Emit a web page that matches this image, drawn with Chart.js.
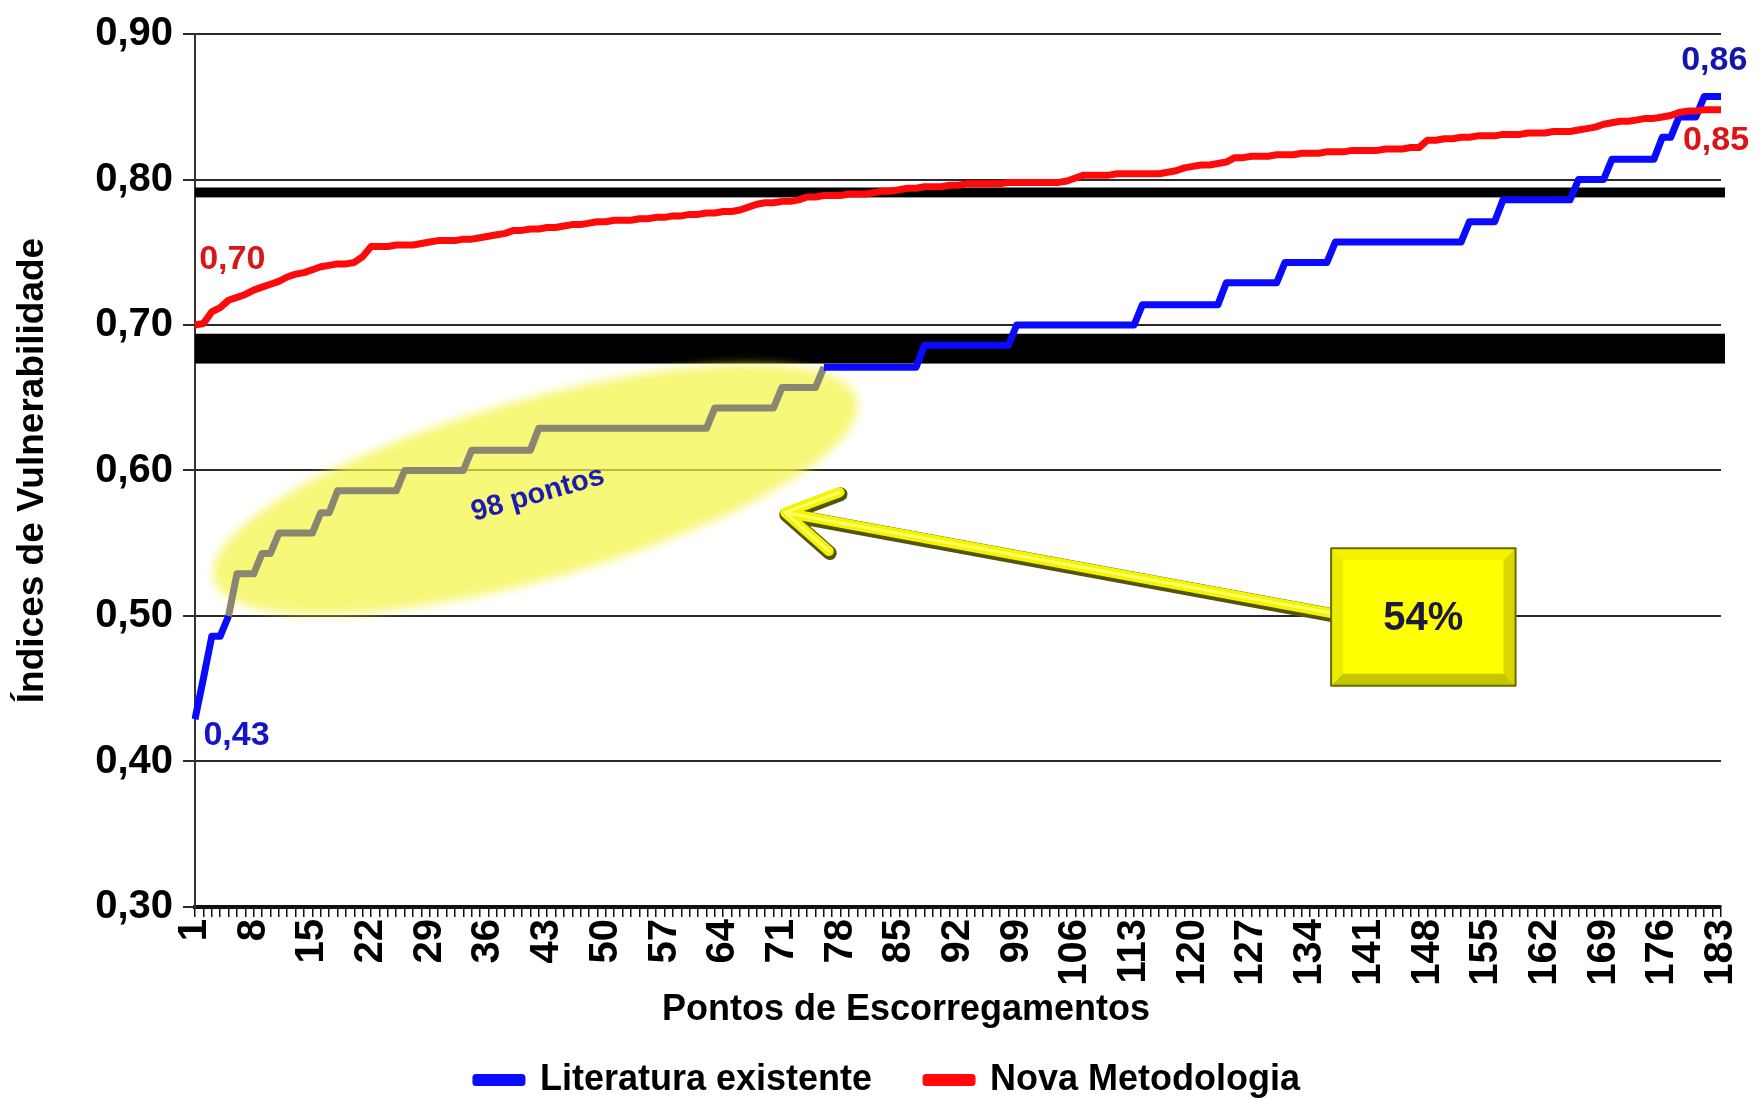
<!DOCTYPE html>
<html>
<head>
<meta charset="utf-8">
<script src="https://cdn.jsdelivr.net/npm/chart.js@4.4.1/dist/chart.umd.min.js"></script>
<style>
  html, body { margin: 0; padding: 0; background: #fff; }
  canvas { display: block; }
</style>
</head>
<body>
<canvas id="grafico" width="1760" height="1099"></canvas>
<script>
'use strict';

// pontos de escorregamento 1..183
const pontos = [];
for (let i = 1; i <= 183; i++) pontos.push(String(i));

const literatura = [
  0.429, 0.457, 0.486, 0.486, 0.500, 0.529, 0.529, 0.529, 0.543, 0.543,
  0.557, 0.557, 0.557, 0.557, 0.557, 0.571, 0.571, 0.586, 0.586, 0.586,
  0.586, 0.586, 0.586, 0.586, 0.586, 0.600, 0.600, 0.600, 0.600, 0.600,
  0.600, 0.600, 0.600, 0.614, 0.614, 0.614, 0.614, 0.614, 0.614, 0.614,
  0.614, 0.629, 0.629, 0.629, 0.629, 0.629, 0.629, 0.629, 0.629, 0.629,
  0.629, 0.629, 0.629, 0.629, 0.629, 0.629, 0.629, 0.629, 0.629, 0.629,
  0.629, 0.629, 0.643, 0.643, 0.643, 0.643, 0.643, 0.643, 0.643, 0.643,
  0.657, 0.657, 0.657, 0.657, 0.657, 0.671, 0.671, 0.671, 0.671, 0.671,
  0.671, 0.671, 0.671, 0.671, 0.671, 0.671, 0.671, 0.686, 0.686, 0.686,
  0.686, 0.686, 0.686, 0.686, 0.686, 0.686, 0.686, 0.686, 0.700, 0.700,
  0.700, 0.700, 0.700, 0.700, 0.700, 0.700, 0.700, 0.700, 0.700, 0.700,
  0.700, 0.700, 0.700, 0.714, 0.714, 0.714, 0.714, 0.714, 0.714, 0.714,
  0.714, 0.714, 0.714, 0.729, 0.729, 0.729, 0.729, 0.729, 0.729, 0.729,
  0.743, 0.743, 0.743, 0.743, 0.743, 0.743, 0.757, 0.757, 0.757, 0.757,
  0.757, 0.757, 0.757, 0.757, 0.757, 0.757, 0.757, 0.757, 0.757, 0.757,
  0.757, 0.757, 0.771, 0.771, 0.771, 0.771, 0.786, 0.786, 0.786, 0.786,
  0.786, 0.786, 0.786, 0.786, 0.786, 0.800, 0.800, 0.800, 0.800, 0.814,
  0.814, 0.814, 0.814, 0.814, 0.814, 0.829, 0.829, 0.843, 0.843, 0.843,
  0.857, 0.857, 0.857
];

const novaMetodologia = [
  0.700, 0.701, 0.709, 0.712, 0.717, 0.719, 0.721, 0.724, 0.726, 0.728,
  0.730, 0.733, 0.735, 0.736, 0.738, 0.740, 0.741, 0.742, 0.742, 0.743,
  0.747, 0.754, 0.754, 0.754, 0.755, 0.755, 0.755, 0.756, 0.757, 0.758,
  0.758, 0.758, 0.759, 0.759, 0.760, 0.761, 0.762, 0.763, 0.765, 0.765,
  0.766, 0.766, 0.767, 0.767, 0.768, 0.769, 0.769, 0.770, 0.771, 0.771,
  0.772, 0.772, 0.772, 0.773, 0.773, 0.774, 0.774, 0.775, 0.775, 0.776,
  0.776, 0.777, 0.777, 0.778, 0.778, 0.779, 0.781, 0.783, 0.784, 0.784,
  0.785, 0.785, 0.786, 0.788, 0.788, 0.789, 0.789, 0.789, 0.790, 0.790,
  0.790, 0.791, 0.792, 0.792, 0.793, 0.794, 0.794, 0.795, 0.795, 0.795,
  0.796, 0.796, 0.797, 0.797, 0.797, 0.797, 0.797, 0.798, 0.798, 0.798,
  0.798, 0.798, 0.798, 0.798, 0.799, 0.801, 0.803, 0.803, 0.803, 0.803,
  0.804, 0.804, 0.804, 0.804, 0.804, 0.804, 0.805, 0.806, 0.808, 0.809,
  0.810, 0.810, 0.811, 0.812, 0.815, 0.815, 0.816, 0.816, 0.816, 0.817,
  0.817, 0.817, 0.818, 0.818, 0.818, 0.819, 0.819, 0.819, 0.820, 0.820,
  0.820, 0.820, 0.821, 0.821, 0.821, 0.822, 0.822, 0.827, 0.827, 0.828,
  0.828, 0.829, 0.829, 0.830, 0.830, 0.830, 0.831, 0.831, 0.831, 0.832,
  0.832, 0.832, 0.833, 0.833, 0.833, 0.834, 0.835, 0.836, 0.838, 0.839,
  0.840, 0.840, 0.841, 0.842, 0.842, 0.843, 0.844, 0.846, 0.847, 0.847,
  0.848, 0.848, 0.848
];

// trecho destacado (indices base 0 do inicio de cada segmento)
const destaque = [4, 74];
// faixas pretas horizontais
const faixas = [[0.7877, 0.7945], [0.6735, 0.694]];

const AZUL = '#0a0aff', VERMELHO = '#ff0a0a', CINZA = '#8a8770';
const fonte = "'Liberation Sans', Arial, sans-serif";
const tituloX = 'Pontos de Escorregamentos';

const rotulos = [
  { text: '0,70', i: 0.5, v: 0.745, color: '#d81818', align: 'left' },
  { text: '0,43', i: 1.0, v: 0.418, color: '#1414c8', align: 'left' },
  { text: '0,86', i: 181.2, v: 0.882, color: '#1414b0', align: 'center' },
  { text: '0,85', i: 181.4, v: 0.827, color: '#dd1414', align: 'center' }
];

const extras = {
  id: 'extras',
  beforeDatasetsDraw(chart) {
    const { ctx, chartArea: area, scales: { x, y } } = chart;
    ctx.save();
    ctx.fillStyle = '#000';
    faixas.forEach(([lo, hi]) => {
      const top = y.getPixelForValue(hi);
      ctx.fillRect(area.left, top, area.right - area.left + 4, y.getPixelForValue(lo) - top);
    });
    // elipse amarela
    ctx.filter = 'blur(5px)';
    ctx.fillStyle = 'rgba(244, 244, 70, 0.72)';
    ctx.beginPath();
    ctx.ellipse(x.getPixelForValue(40.6), y.getPixelForValue(0.587), 334, 90, -15.7 * Math.PI / 180, 0, Math.PI * 2);
    ctx.fill();
    ctx.restore();
  },
  afterDatasetsDraw(chart) {
    const { ctx, chartArea: area, scales: { x, y } } = chart;
    ctx.save();

    // seta
    const tx = x.getPixelForValue(70.4), ty = y.getPixelForValue(0.571);
    const sx = x.getPixelForValue(135.5), sy = y.getPixelForValue(0.502);
    const ang = Math.atan2(sy - ty, sx - tx);
    const arm = 58, abre = Math.PI / 5.8;
    const caminho = () => {
      ctx.beginPath();
      ctx.moveTo(sx, sy);
      ctx.lineTo(tx, ty);
      ctx.moveTo(tx + arm * Math.cos(ang - abre), ty + arm * Math.sin(ang - abre));
      ctx.lineTo(tx, ty);
      ctx.lineTo(tx + arm * Math.cos(ang + abre), ty + arm * Math.sin(ang + abre));
    };
    ctx.lineCap = 'round';
    ctx.lineJoin = 'round';
    ctx.save();
    ctx.translate(1, 2);
    caminho();
    ctx.strokeStyle = '#55550a';
    ctx.lineWidth = 14;
    ctx.stroke();
    ctx.restore();
    caminho();
    ctx.strokeStyle = '#f4f400';
    ctx.lineWidth = 10;
    ctx.stroke();
    caminho();
    ctx.strokeStyle = '#ffff66';
    ctx.lineWidth = 3;
    ctx.stroke();

    // caixa 54%
    const bx0 = x.getPixelForValue(135.5), bx1 = x.getPixelForValue(157.5);
    const by0 = y.getPixelForValue(0.5466), by1 = y.getPixelForValue(0.452);
    const bv = 12;
    const poly = (pts, cor) => {
      ctx.beginPath();
      pts.forEach(([px, py], k) => k ? ctx.lineTo(px, py) : ctx.moveTo(px, py));
      ctx.closePath();
      ctx.fillStyle = cor;
      ctx.fill();
    };
    ctx.fillStyle = '#ffff00';
    ctx.fillRect(bx0, by0, bx1 - bx0, by1 - by0);
    poly([[bx0, by0], [bx1, by0], [bx1 - bv, by0 + bv], [bx0 + bv, by0 + bv]], '#f4f400');
    poly([[bx0, by0], [bx0 + bv, by0 + bv], [bx0 + bv, by1 - bv], [bx0, by1]], '#ecec00');
    poly([[bx1, by0], [bx1, by1], [bx1 - bv, by1 - bv], [bx1 - bv, by0 + bv]], '#d8d800');
    poly([[bx0, by1], [bx0 + bv, by1 - bv], [bx1 - bv, by1 - bv], [bx1, by1]], '#c6c600');
    ctx.strokeStyle = '#6a6a00';
    ctx.lineWidth = 2;
    ctx.strokeRect(bx0, by0, bx1 - bx0, by1 - by0);
    ctx.fillStyle = '#1a1a40';
    ctx.font = 'bold 40px ' + fonte;
    ctx.textAlign = 'center';
    ctx.textBaseline = 'middle';
    ctx.fillText('54%', (bx0 + bx1) / 2, (by0 + by1) / 2 + 2);

    // texto da elipse
    ctx.save();
    ctx.translate(x.getPixelForValue(40.9), y.getPixelForValue(0.5836));
    ctx.rotate(-16 * Math.PI / 180);
    ctx.fillStyle = '#1c1cb0';
    ctx.font = 'bold 29px ' + fonte;
    ctx.fillText('98 pontos', 0, 0);
    ctx.restore();

    // valores extremos
    ctx.font = 'bold 34px ' + fonte;
    rotulos.forEach(r => {
      ctx.fillStyle = r.color;
      ctx.textAlign = r.align;
      ctx.fillText(r.text, x.getPixelForValue(r.i), y.getPixelForValue(r.v));
    });

    // titulo do eixo x
    ctx.fillStyle = '#000';
    ctx.textAlign = 'center';
    ctx.font = 'bold 36px ' + fonte;
    ctx.fillText(tituloX, area.left + 711, area.bottom + 103);
    ctx.restore();
  }
};

Chart.defaults.font.family = fonte;
Chart.defaults.font.weight = 'bold';
Chart.defaults.color = '#000';

new Chart(document.getElementById('grafico'), {
  type: 'line',
  data: {
    labels: pontos,
    datasets: [{
      label: 'Literatura existente',
      data: literatura,
      borderColor: AZUL,
      backgroundColor: AZUL,
      borderWidth: 7,
      borderJoinStyle: 'round',
      pointRadius: 0,
      order: 1,
      segment: {
        borderColor: c => (c.p0DataIndex >= destaque[0] && c.p0DataIndex <= destaque[1]) ? CINZA : undefined
      }
    }, {
      label: 'Nova Metodologia',
      data: novaMetodologia,
      borderColor: VERMELHO,
      backgroundColor: VERMELHO,
      borderWidth: 7,
      borderJoinStyle: 'round',
      pointRadius: 0,
      order: 0
    }]
  },
  options: {
    responsive: false,
    animation: false,
    events: [],
    layout: { padding: { top: 31, right: 39, left: 55, bottom: -9 } },
    scales: {
      x: {
        offset: false,
        afterFit: s => { s.height = 101; s.paddingRight = 0; s.paddingLeft = 0; },
        grid: { drawOnChartArea: false, drawTicks: true, tickLength: 10, color: '#111', lineWidth: 1.5 },
        border: { color: '#111', width: 4 },
        ticks: {
          autoSkip: false,
          minRotation: 90,
          maxRotation: 90,
          padding: 2,
          font: { size: 40, weight: 'bold' },
          callback: (v, i) => i % 7 === 0 ? pontos[i] : ''
        },
        title: { display: false, text: tituloX }
      },
      y: {
        min: 0.3,
        max: 0.9,
        afterFit: s => { s.width = 140; },
        grid: { color: '#2a2a2a', lineWidth: 2, tickLength: 12 },
        border: { color: '#333', width: 2 },
        ticks: {
          stepSize: 0.1,
          padding: 10,
          font: { size: 40, weight: 'bold' },
          callback: v => v.toFixed(2).replace('.', ',')
        },
        title: {
          display: true,
          text: 'Índices de Vulnerabilidade',
          font: { size: 37, weight: 'bold' },
          padding: { top: -44, bottom: 0 }
        }
      }
    },
    plugins: {
      tooltip: { enabled: false },
      legend: {
        position: 'bottom',
        labels: {
          boxWidth: 46,
          boxHeight: 5,
          padding: 54,
          font: { size: 36, weight: 'bold' },
          sort: (a, b) => a.datasetIndex - b.datasetIndex
        }
      }
    }
  },
  plugins: [extras]
});
</script>
</body>
</html>
